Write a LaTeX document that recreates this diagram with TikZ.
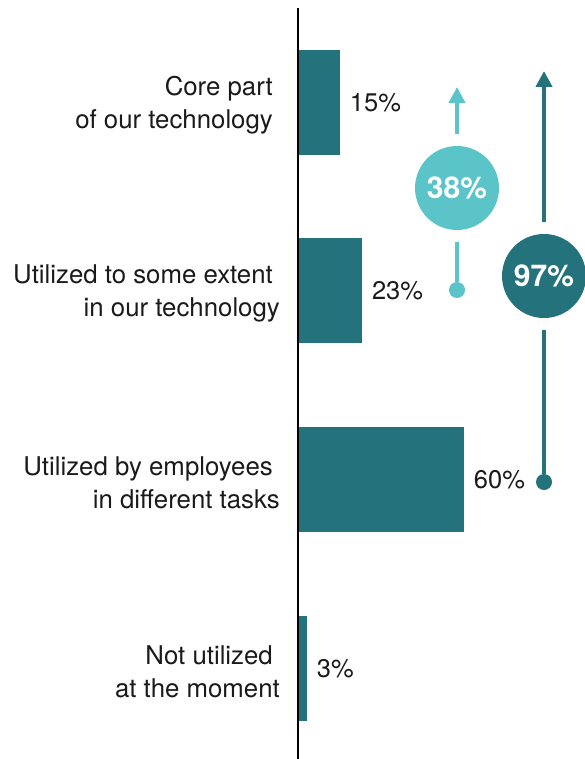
\documentclass[tikz,border=0pt]{standalone}
\usepackage{fontspec}
\setmainfont{TeX Gyre Heros}
\usetikzlibrary{arrows.meta}
\definecolor{darkteal}{HTML}{24727C}
\definecolor{lightteal}{HTML}{5BC4C9}
\definecolor{txt}{HTML}{1A1A1A}
\begin{document}
\begin{tikzpicture}[x=1pt,y=-1pt,
  bar/.style={fill=darkteal, draw=none, minimum height=105pt, inner sep=0, anchor=west, rectangle},
  cat/.style={anchor=east, align=right, inner sep=0, text=txt, font=\fontsize{25.8}{33}\selectfont},
  pct/.style={anchor=west, inner sep=0, text=txt, font=\fontsize{25.5}{33}\selectfont},
  bubble/.style={circle, minimum size=84pt, inner sep=0, text=white, font=\fontsize{30}{36}\selectfont\bfseries},
  enddot/.style={circle, minimum size=16pt, inner sep=0},
  conn/.style={line width=4.5pt, shorten <=12pt},
  tipped/.style={conn, -{Triangle[length=16pt,width=16pt]}}
]
\useasboundingbox (0,0) rectangle (585,759);
% bars
\node[bar, minimum width=41.3pt] (b1) at (298,102.5) {};
\node[bar, minimum width=63.4pt] (b2) at (298,290.5) {};
\node[bar, minimum width=165.3pt] (b3) at (298,479.5) {};
\node[bar, minimum width=8.3pt] (b4) at (298,668.5) {};
% axis
\coordinate (axtop) at (298,8);
\coordinate (axbot) at (298,759);
\draw[line width=1.2pt, black] (axtop) -- (axbot);
% category labels
\node[cat] (l1) at (280,105.5) {Core part\hspace*{7pt}\\of our technology\hspace*{7pt}};
\node[cat] (l2) at (280,293.5) {Utilized to some extent\hspace*{7pt}\\in our technology};
\node[cat] (l3) at (280,482.5) {Utilized by employees\hspace*{7pt}\\in different tasks};
\node[cat] (l4) at (280,671.5) {Not utilized\hspace*{7pt}\\at the moment};
% percentages
\node[pct] (p1) at ([xshift=10pt]b1.east) {15\%};
\node[pct] (p2) at ([xshift=10pt]b2.east) {23\%};
\node[pct] (p3) at ([xshift=10pt]b3.east) {60\%};
\node[pct] (p4) at ([xshift=10pt]b4.east) {3\%};
% bubbles
\node[bubble, fill=lightteal] (c38) at (457,188) {38\%};
\node[bubble, fill=darkteal] (c97) at (544,276) {97\%};
\coordinate (t38) at (457,87);
\coordinate (t97) at (544,71);
\node[enddot, fill=lightteal] (d38) at (457,290) {};
\node[enddot, fill=darkteal] (d97) at (544,482) {};
\draw[tipped, lightteal] (c38) -- (t38);
\draw[conn, lightteal] (c38) -- (d38);
\draw[tipped, darkteal] (c97) -- (t97);
\draw[conn, darkteal] (c97) -- (d97);
\end{tikzpicture}
\end{document}
